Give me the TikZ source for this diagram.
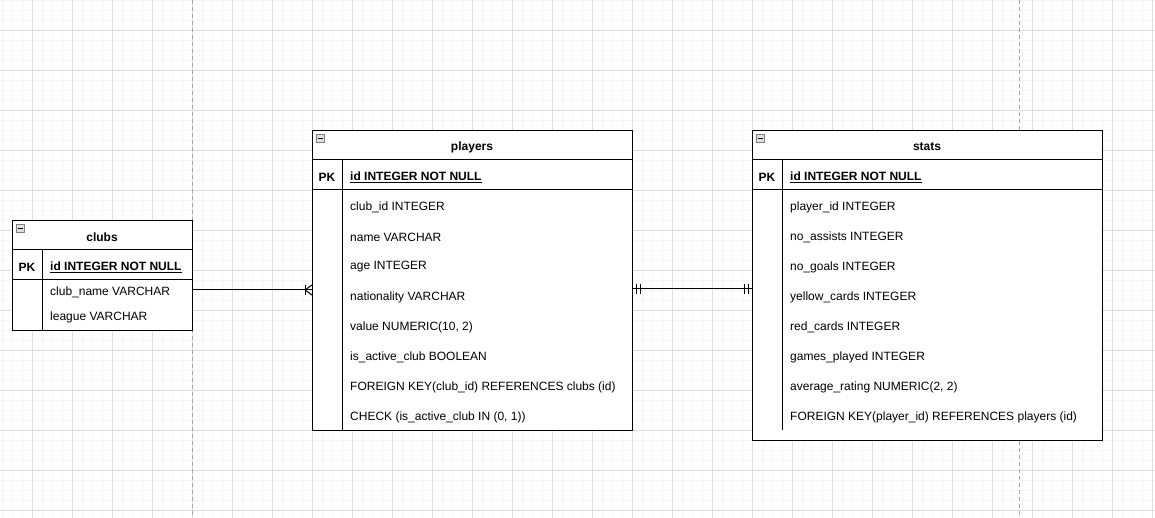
\documentclass[tikz,border=0pt]{standalone}
\usepackage{fontspec}
\setmainfont{Liberation Sans}
\begin{document}
\begin{tikzpicture}[x=1pt,y=-1pt,
  tbl/.style={draw=black, line width=1pt, fill=white, anchor=north west, inner sep=0pt},
  sep/.style={line width=1pt},
  txt/.style={anchor=west, inner sep=0pt, font=\fontsize{12}{14}\selectfont},
  pk/.style={anchor=center, inner sep=0pt, font=\fontsize{12}{14}\selectfont\bfseries},
  ttl/.style={anchor=center, inner sep=0pt, font=\fontsize{12}{14}\selectfont\bfseries},
  icon/.style={draw=black!50, fill=black!12, minimum size=8pt, inner sep=0pt, line width=0.7pt},
  mk/.style={line width=1pt},
  conn/.style={line width=1pt}
]
\useasboundingbox (0,0) rectangle (1155,518);
\fill[white] (0,0) rectangle (1155,518);
% grid
\foreach \x in {2,12,...,1152} \draw[black!4, line width=0.6pt] (\x,0) -- (\x,518);
\foreach \y in {0,10,...,510} \draw[black!4, line width=0.6pt] (0,\y) -- (1155,\y);
\foreach \x in {32,72,...,1152} \draw[black!13, line width=0.6pt] (\x,0) -- (\x,518);
\foreach \y in {30,70,...,510} \draw[black!13, line width=0.6pt] (0,\y) -- (1155,\y);
\draw[black!35, dash pattern=on 4pt off 3pt, line width=0.7pt] (192,0) -- (192,518);
\draw[black!35, dash pattern=on 4pt off 3pt, line width=0.7pt] (1019,0) -- (1019,518);

% ---------- clubs ----------
\node[tbl, minimum width=180pt, minimum height=110pt] (clubs) at (12,220) {};
\draw[sep] (12,250) -- (192,250);
\draw[sep] (12,280) -- (192,280);
\draw[sep] (42,250) -- (42,330);
\node[icon] (ic1) at (20.5,228.5) {};
\draw[line width=1.1pt] (ic1.west) ++(1.5pt,0) -- ([xshift=-1.5pt]ic1.east);
\node[ttl] (t1) at (102,237) {clubs};
\node[pk] (pk1) at (27,267) {PK};
\node[txt] (c-id) at (50,267) {\underline{\textbf{id INTEGER NOT NULL}}};
\node[txt] (c-name) at (50,292) {club\_name VARCHAR};
\node[txt] (c-league) at (50,317) {league VARCHAR};

% ---------- players ----------
\node[tbl, minimum width=320pt, minimum height=300pt] (players) at (312,130) {};
\draw[sep] (312,160) -- (632,160);
\draw[sep] (312,190) -- (632,190);
\draw[sep] (342,160) -- (342,430);
\node[icon] (ic2) at (320.5,138.5) {};
\draw[line width=1.1pt] (ic2.west) ++(1.5pt,0) -- ([xshift=-1.5pt]ic2.east);
\node[ttl] (t2) at (472,147) {players};
\node[pk] (pk2) at (327,177) {PK};
\node[txt] (p-id) at (350,177) {\underline{\textbf{id INTEGER NOT NULL}}};
\node[txt] (p1) at (350,207) {club\_id INTEGER};
\node[txt] (p2) at (350,237) {name VARCHAR};
\node[txt] (p3) at (350,267) {age INTEGER};
\node[txt] (p4) at (350,297) {nationality VARCHAR};
\node[txt] (p5) at (350,327) {value NUMERIC(10, 2)};
\node[txt] (p6) at (350,357) {is\_active\_club BOOLEAN};
\node[txt] (p7) at (350,387) {FOREIGN KEY(club\_id) REFERENCES clubs (id)};
\node[txt] (p8) at (350,417) {CHECK (is\_active\_club IN (0, 1))};

% ---------- stats ----------
\node[tbl, minimum width=350pt, minimum height=310pt] (stats) at (752,130) {};
\draw[sep] (752,160) -- (1102,160);
\draw[sep] (752,190) -- (1102,190);
\draw[sep] (782,160) -- (782,430);
\node[icon] (ic3) at (760.5,138.5) {};
\draw[line width=1.1pt] (ic3.west) ++(1.5pt,0) -- ([xshift=-1.5pt]ic3.east);
\node[ttl] (t3) at (927,147) {stats};
\node[pk] (pk3) at (767,177) {PK};
\node[txt] (s-id) at (790,177) {\underline{\textbf{id INTEGER NOT NULL}}};
\node[txt] (s1) at (790,207) {player\_id INTEGER};
\node[txt] (s2) at (790,237) {no\_assists INTEGER};
\node[txt] (s3) at (790,267) {no\_goals INTEGER};
\node[txt] (s4) at (790,297) {yellow\_cards INTEGER};
\node[txt] (s5) at (790,327) {red\_cards INTEGER};
\node[txt] (s6) at (790,357) {games\_played INTEGER};
\node[txt] (s7) at (790,387) {average\_rating NUMERIC(2, 2)};
\node[txt] (s8) at (790,417) {FOREIGN KEY(player\_id) REFERENCES players (id)};

% ---------- connectors ----------
\coordinate (cp) at (250,290);
\coordinate (ps) at (692,289);
\draw[conn] (clubs.east |- cp) -- (players.west |- cp);
% one-or-many at players end
\draw[mk] ([xshift=-7pt,yshift=-5pt]players.west |- cp) -- ([xshift=-7pt,yshift=5pt]players.west |- cp);
\draw[mk] ([xshift=-7pt]players.west |- cp) -- ([yshift=-5pt]players.west |- cp);
\draw[mk] ([xshift=-7pt]players.west |- cp) -- ([yshift=5pt]players.west |- cp);

\draw[conn] (players.east |- ps) -- (stats.west |- ps);
% mandatory one at both ends
\draw[mk] ([xshift=3.5pt,yshift=-4.5pt]players.east |- ps) -- ([xshift=3.5pt,yshift=4.5pt]players.east |- ps);
\draw[mk] ([xshift=7.5pt,yshift=-4.5pt]players.east |- ps) -- ([xshift=7.5pt,yshift=4.5pt]players.east |- ps);
\draw[mk] ([xshift=-3.5pt,yshift=-4.5pt]stats.west |- ps) -- ([xshift=-3.5pt,yshift=4.5pt]stats.west |- ps);
\draw[mk] ([xshift=-7.5pt,yshift=-4.5pt]stats.west |- ps) -- ([xshift=-7.5pt,yshift=4.5pt]stats.west |- ps);
\end{tikzpicture}
\end{document}
